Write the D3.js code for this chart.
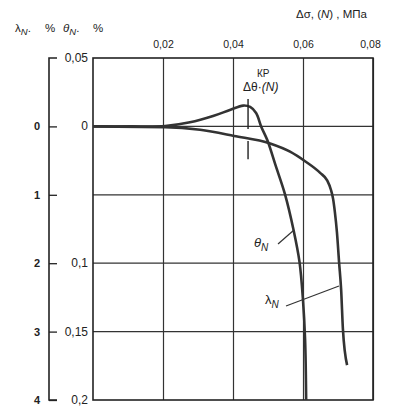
<!DOCTYPE html>
<html>
<head>
<meta charset="utf-8">
<script src="https://cdn.jsdelivr.net/npm/d3@7"></script>
<style>
  body { margin: 0; background: #fff; }
  text { font-family: "Liberation Sans", Arial, sans-serif; fill: #222; }
</style>
</head>
<body>
<div id="viz"></div>
<script>
// stress axis (top), MPa
const xTicks = [0.02, 0.04, 0.06, 0.08];
const xLabels = ['0,02', '0,04', '0,06', '0,08'];

// left axes: lambda (%) and theta (%)
const lambdaTicks = [0, 1, 2, 3, 4];
const thetaTicks = [-0.05, 0, 0.1, 0.15, 0.2];
const thetaLabels = ['0,05', '0', '0,1', '0,15', '0,2'];

// theta_N curve (theta units, positive downward)
const thetaX = [0, 0.0106, 0.0206, 0.0277, 0.0343, 0.0391, 0.0429, 0.0449, 0.0466, 0.0481, 0.0498, 0.0521, 0.0549, 0.0573, 0.059, 0.06, 0.0606, 0.0609];
const thetaY = [0, 0, -0.0003, -0.003, -0.0076, -0.012, -0.0152, -0.0142, -0.0098, 0.0004, 0.01, 0.028, 0.05, 0.0757, 0.099, 0.127, 0.156, 0.2];

// lambda_N curve (lambda units)
const lambdaX = [0, 0.0206, 0.0306, 0.0403, 0.0506, 0.0563, 0.0606, 0.0649, 0.0669, 0.068, 0.0686, 0.0691, 0.0697, 0.0703, 0.0709, 0.0714, 0.0726];
const lambdaY = [0, 0.01, 0.05, 0.14, 0.25, 0.37, 0.51, 0.68, 0.79, 0.93, 1.06, 1.25, 1.55, 1.98, 2.39, 2.96, 3.49];

// critical marker
const critX = 0.0443;
const critTheta = [-0.02, 0.024];

const W = 395, H = 412;
const plot = { left: 93, right: 373, top: 58, bottom: 400 };

const svg = d3.select('#viz').append('svg')
    .attr('width', W)
    .attr('height', H);

const x = d3.scaleLinear().domain([0, 0.08]).range([plot.left, plot.right]);
const yTheta = d3.scaleLinear().domain([-0.05, 0.2]).range([plot.top, plot.bottom]);
const yLambda = d3.scaleLinear().domain([-1, 4]).range([plot.top, plot.bottom]);

// vertical grid + top labels
const xAxis = svg.append('g')
    .attr('transform', `translate(0,${plot.top})`)
    .call(d3.axisTop(x).tickValues(xTicks)
        .tickSize(-(plot.bottom - plot.top))
        .tickPadding(10)
        .tickFormat((d, i) => xLabels[i]));
xAxis.select('.domain').remove();
xAxis.selectAll('line').attr('stroke', '#333').attr('stroke-width', 1.2);
xAxis.selectAll('text').attr('font-size', 10.5).attr('fill', '#444')
    .attr('font-family', '"Liberation Sans", Arial, sans-serif');
xAxis.selectAll('.tick').filter(d => d === 0.08).select('text').attr('dx', -3);

// horizontal grid
svg.append('g').selectAll('line')
    .data(lambdaTicks.slice(0, 4))
    .join('line')
    .attr('x1', plot.left).attr('x2', plot.right)
    .attr('y1', d => yLambda(d)).attr('y2', d => yLambda(d))
    .attr('stroke', '#333').attr('stroke-width', 1.2);

// frame
svg.append('rect')
    .attr('x', plot.left).attr('y', plot.top)
    .attr('width', plot.right - plot.left)
    .attr('height', plot.bottom - plot.top)
    .attr('fill', 'none').attr('stroke', '#222').attr('stroke-width', 1.6);

// left bracket axis (lambda)
const bx = 49;
const lAxis = svg.append('g')
    .attr('transform', `translate(${bx},0)`)
    .call(d3.axisRight(yLambda).tickValues(lambdaTicks).tickSize(8).tickFormat(''));
lAxis.select('.domain').attr('d', `M8,${plot.top}H0V${plot.bottom}H8`)
    .attr('stroke', '#222').attr('stroke-width', 1.6).attr('fill', 'none');
lAxis.selectAll('line').attr('stroke', '#222').attr('stroke-width', 1.3);

svg.append('g').selectAll('text')
    .data(lambdaTicks)
    .join('text')
    .attr('x', 37)
    .attr('y', d => yLambda(d) + 4)
    .attr('text-anchor', 'middle')
    .attr('font-size', 11)
    .attr('font-weight', 'bold')
    .text(d => d);

svg.append('g').selectAll('text')
    .data(thetaTicks)
    .join('text')
    .attr('x', 88)
    .attr('y', d => yTheta(d) + 4)
    .attr('text-anchor', 'end')
    .attr('font-size', 12)
    .text((d, i) => thetaLabels[i]);

// curves
const lambdaLine = d3.line().curve(d3.curveMonotoneX);
const thetaLine = d3.line().curve(d3.curveCatmullRom.alpha(0.5));

svg.append('path')
    .attr('d', lambdaLine(lambdaX.map((v, i) => [x(v), yLambda(lambdaY[i])])))
    .attr('fill', 'none').attr('stroke', '#333').attr('stroke-width', 2.6);

svg.append('path')
    .attr('d', thetaLine(thetaX.map((v, i) => [x(v), yTheta(thetaY[i])])))
    .attr('fill', 'none').attr('stroke', '#333').attr('stroke-width', 2.6);

// critical marker
svg.append('line')
    .attr('x1', x(critX)).attr('x2', x(critX))
    .attr('y1', yTheta(critTheta[0])).attr('y2', yTheta(critTheta[1]))
    .attr('stroke', '#222').attr('stroke-width', 1.4)
    .attr('stroke-dasharray', '30,12,20');

const crit = svg.append('text')
    .attr('x', x(critX) - 5).attr('y', 91)
    .attr('font-size', 12).attr('fill', '#333');
crit.append('tspan').text('Δθ·');
crit.append('tspan').attr('font-style', 'italic').text('(N)');
svg.append('text')
    .attr('x', x(critX) + 9).attr('y', 77)
    .attr('font-size', 10).attr('fill', '#333')
    .text('КР');

// curve labels
svg.append('line')
    .attr('x1', 278).attr('y1', 244).attr('x2', 294).attr('y2', 230)
    .attr('stroke', '#333').attr('stroke-width', 1.2);
const tl = svg.append('text').attr('x', 254).attr('y', 247)
    .attr('font-size', 13).attr('font-style', 'italic');
tl.append('tspan').text('θ');
tl.append('tspan').attr('font-size', 10).attr('dy', 4).text('N');

svg.append('line')
    .attr('x1', 286).attr('y1', 306).attr('x2', 339).attr('y2', 286)
    .attr('stroke', '#333').attr('stroke-width', 1.2);
const ll = svg.append('text').attr('x', 265).attr('y', 304)
    .attr('font-size', 13);
ll.append('tspan').text('λ');
ll.append('tspan').attr('font-size', 10).attr('dy', 4).attr('font-style', 'italic').text('N');

// axis titles
const yt = svg.append('text').attr('y', 32).attr('font-size', 11.5);
yt.append('tspan').attr('x', 15).text('λ');
yt.append('tspan').attr('font-size', 9.5).attr('dy', 3).attr('font-style', 'italic').text('N');
yt.append('tspan').attr('dy', -3).text('.');
yt.append('tspan').attr('x', 45).text('%');
yt.append('tspan').attr('x', 63).attr('font-style', 'italic').text('θ');
yt.append('tspan').attr('font-size', 9.5).attr('dy', 3).attr('font-style', 'italic').text('N');
yt.append('tspan').attr('dy', -3).text('.');
yt.append('tspan').attr('x', 93).text('%');

const xt = svg.append('text').attr('x', 296).attr('y', 18).attr('font-size', 11.5);
xt.append('tspan').text('Δσ, (');
xt.append('tspan').attr('font-style', 'italic').text('N');
xt.append('tspan').text(') , МПа');
</script>
</body>
</html>
